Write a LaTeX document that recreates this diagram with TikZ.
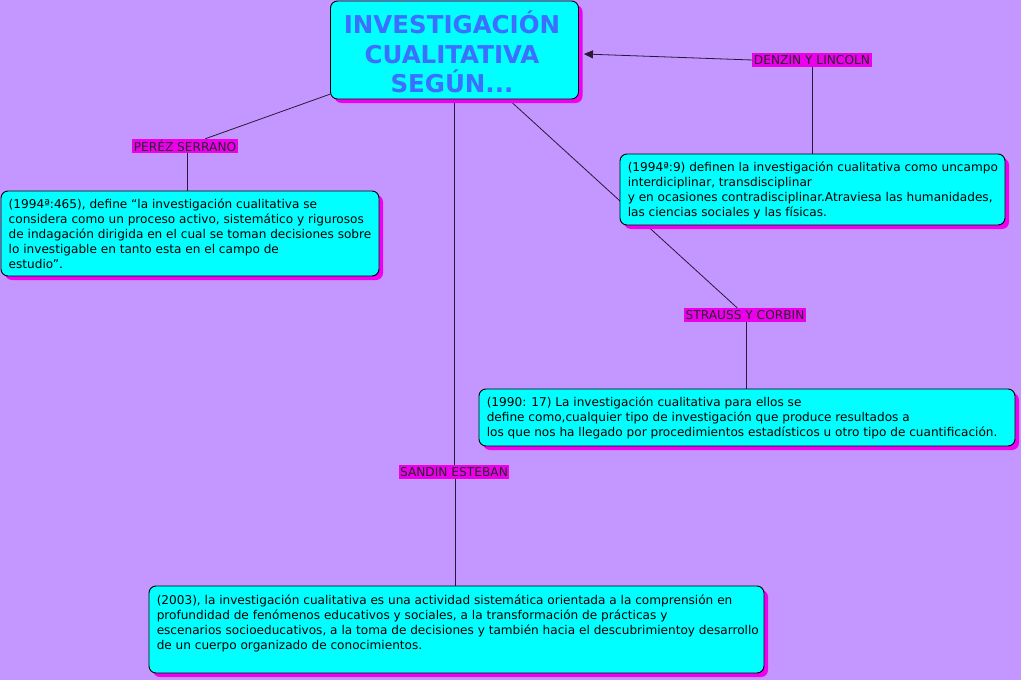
\documentclass[tikz,border=0pt]{standalone}
\usepackage{fontspec}
\setmainfont{DejaVu Sans}
\usetikzlibrary{shadows,arrows.meta}
\pgfdeclarelayer{bglayer}
\pgfdeclarelayer{edgelayer}
\pgfsetlayers{bglayer,edgelayer,main}
\definecolor{bgpurple}{RGB}{196,150,255}
\definecolor{boxcyan}{RGB}{0,255,255}
\definecolor{shadowmag}{RGB}{240,0,240}
\definecolor{labelmag}{RGB}{236,0,236}
\definecolor{titleblue}{RGB}{60,110,255}
\definecolor{linecol}{RGB}{40,25,55}
\tikzset{
  cbox/.style={draw=black, line width=0.9pt, fill=boxcyan, rounded corners=7pt,
    general shadow={fill=shadowmag, shadow xshift=4pt, shadow yshift=-4pt}},
  btxt/.style={inner sep=0pt, anchor=north west, align=left, text=black,
    font=\fontsize{12.1}{15}\selectfont},
  lbl/.style={fill=labelmag, inner xsep=1.5pt, inner ysep=0.5pt, text=black!85,
    font=\fontsize{12.2}{13}\selectfont, minimum height=14pt},
  conn/.style={draw=linecol, line width=0.8pt},
}
\begin{document}
\begin{tikzpicture}[x=1pt,y=-1pt]
\useasboundingbox (0,0) rectangle (1021,680);
\begin{pgfonlayer}{bglayer}
\fill[bgpurple] (0,0) rectangle (1021,680);
\end{pgfonlayer}

% title
\node[cbox, minimum width=248pt, minimum height=98pt] (t) at (454.5,50) {};
\node[align=center, inner sep=0pt, text=titleblue,
  font=\fontsize{24.5}{29.5}\selectfont\bfseries] (tt) at (452,52)
  {INVESTIGACIÓN\\CUALITATIVA\\SEGÚN...};

% boxes
\node[cbox, minimum width=378pt, minimum height=85pt] (pb) at (190,233.5) {};
\node[btxt] (pt) at ([xshift=8pt,yshift=-8pt]pb.north west)
  {(1994ª:465), define “la investigación cualitativa se\\
   considera como un proceso activo, sistemático y rigurosos\\
   de indagación dirigida en el cual se toman decisiones sobre\\
   lo investigable en tanto esta en el campo de\\
   estudio".};

\node[cbox, minimum width=385pt, minimum height=71pt] (db) at (812.5,189.5) {};
\node[btxt] (dt) at ([xshift=8pt,yshift=-8.5pt]db.north west)
  {(1994ª:9) definen la investigación cualitativa como uncampo\\
   interdiciplinar, transdisciplinar\\
   y en ocasiones contradisciplinar.Atraviesa las humanidades,\\
   las ciencias sociales y las físicas.};

\node[cbox, minimum width=536pt, minimum height=57pt] (sb) at (747,417.5) {};
\node[btxt] (st) at ([xshift=8pt,yshift=-8.5pt]sb.north west)
  {(1990: 17) La investigación cualitativa para ellos se\\
   define como,cualquier tipo de investigación que produce resultados a\\
   los que nos ha llegado por procedimientos estadísticos u otro tipo de cuantificación.};

\node[cbox, minimum width=615pt, minimum height=87pt] (eb) at (456.5,629.5) {};
\node[btxt] (et) at ([xshift=8pt,yshift=-9pt]eb.north west)
  {(2003), la investigación cualitativa es una actividad sistemática orientada a la comprensión en\\
   profundidad de fenómenos educativos y sociales, a la transformación de prácticas y\\
   escenarios socioeducativos, a la toma de decisiones y también hacia el descubrimientoy desarrollo\\
   de un cuerpo organizado de conocimientos.};

% labels
\node[lbl] (pl) at (185,146) {PERÉZ SERRANO};
\node[lbl] (dl) at (812,60) {DENZIN Y LINCOLN};
\node[lbl] (sl) at (745,315) {STRAUSS Y CORBIN};
\node[lbl] (el) at (454,472) {SANDIN ESTEBAN};

% connectors
\begin{pgfonlayer}{edgelayer}
\draw[conn] (t) -- (pl);
\draw[conn] (pl.south -| pb.north) ++(-3pt,0) coordinate (pls) -- (pls |- pb.north);
\draw[conn] (t) -- (sl);
\draw[conn] (sl.south) ++(1pt,0) coordinate (sls) -- (sls |- sb.north);
\draw[conn] (t.south -| el.north) -- (el.north);
\draw[conn] (el.south) ++(1pt,0) coordinate (els) -- (els |- eb.north);
\draw[conn] (dl.south) -- (dl.south |- db.north);
\end{pgfonlayer}
\draw[conn, -{Triangle[length=9pt,width=8pt]}] (dl.west) -- ([xshift=5pt,yshift=-4pt]t.east);
\end{tikzpicture}
\end{document}
